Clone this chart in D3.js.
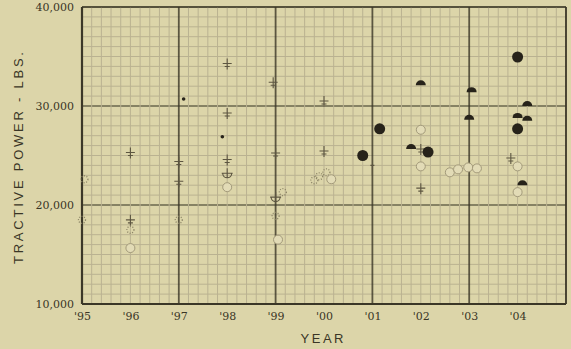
<!DOCTYPE html>
<html><head><meta charset="utf-8">
<script src="https://cdn.jsdelivr.net/npm/d3@7"></script>
<style>
html,body{margin:0;padding:0;background:#dcd5a9;}
svg{display:block;}
</style></head>
<body>
<script>
// ---- data (year, tractive power lbs.) ----
const yTickValues = [10000, 20000, 30000, 40000];
const yTickLabels = ["10,000", "20,000", "30,000", "40,000"];
const xTickValues = [1895,1896,1897,1898,1899,1900,1901,1902,1903,1904];
const xTickLabels = ["'95","'96","'97","'98","'99","'00","'01","'02","'03","'04"];

const plusPoints = [[1896,25300],[1896,18500],[1897,24400],[1897,22400],[1898,34300],[1898,29300],[1898,24600],
  [1898.95,32400],[1899,25250],[1900,30500],[1900,25450],[1902,25650],[1902,21700],[1903.86,24750]];
const dottedPoints = [[1895.05,22600],[1895,18500],[1896,17500],[1897,18500],[1899.15,21300],[1899,18900],
  [1899.9,22900],[1900.05,23300],[1899.8,22500]];
const openPoints = [[1896,15650],[1898,21800],[1899.05,16500],[1900.15,22600],[1902,27600],[1902,23900],
  [1902.6,23300],[1902.77,23600],[1902.98,23800],[1903.16,23700],[1904,23900],[1904,21300]];
const filledPoints = [[1900.8,25000],[1901.15,27700],[1902.15,25350],[1904,34950],[1904,27700]];
const halfPoints = [[1902,32100],[1903.05,31400],[1903,28600],[1901.8,25650],[1904.2,30000],[1904,28800],
  [1904.2,28500],[1904.1,22000]];
const dotPoints = [[1897.1,30700],[1897.9,26900]];
const halfPlusPoints = [[1898,23200],[1899,20800]];
const tickMarkPoints = [[1901,23500]];

const W = 571, H = 349;
const x = d3.scaleLinear().domain([1895, 1905]).range([82, 566]);
const y = d3.scaleLinear().domain([10000, 40000]).range([304, 7]);

const svg = d3.select("body").append("svg").attr("width", W).attr("height", H);
svg.append("rect").attr("width", W).attr("height", H).attr("fill", "#dcd5a9");

const ink = "#3b3727";
const gridC = "#bab291";

// minor grid
const g = svg.append("g");
d3.range(10000, 40001, 1000).forEach(v => {
  const major = v % 10000 === 0;
  g.append("line").attr("x1", x(1895)).attr("x2", x(1905)).attr("y1", y(v)).attr("y2", y(v))
    .attr("stroke", major ? ink : gridC).attr("stroke-width", major ? 1.5 : 1).attr("opacity", major ? 0.7 : 1);
});
d3.range(0, 51).forEach(i => {
  const yr = 1895 + i * 0.2;
  const isYear = i % 5 === 0;
  const major = isYear && (i / 5) % 2 === 0;
  g.append("line").attr("x1", x(yr)).attr("x2", x(yr)).attr("y1", y(10000)).attr("y2", y(40000))
    .attr("stroke", major ? ink : gridC).attr("stroke-width", major ? 1.8 : 1).attr("opacity", major ? 0.8 : 1);
});
// frame
svg.append("line").attr("x1", x(1895)).attr("x2", x(1905)).attr("y1", y(10000)).attr("y2", y(10000)).attr("stroke", ink).attr("stroke-width", 2.2);
svg.append("line").attr("x1", x(1895)).attr("x2", x(1895)).attr("y1", y(10000)).attr("y2", y(40000)).attr("stroke", ink).attr("stroke-width", 2.2);
svg.append("line").attr("x1", x(1895)).attr("x2", x(1905)).attr("y1", y(40000)).attr("y2", y(40000)).attr("stroke", ink).attr("stroke-width", 1.3).attr("opacity", 0.85);
svg.append("line").attr("x1", x(1905)).attr("x2", x(1905)).attr("y1", y(10000)).attr("y2", y(40000)).attr("stroke", ink).attr("stroke-width", 1.5).attr("opacity", 0.85);

// axes labels via d3 axes
const yAxis = d3.axisLeft(y).tickValues(yTickValues).tickFormat((d, i) => yTickLabels[i]).tickSize(0).tickPadding(8);
const ya = svg.append("g").attr("transform", `translate(${x(1895)},0)`).call(yAxis);
ya.select(".domain").remove();
ya.selectAll("text").attr("font-family", "'DejaVu Serif', 'Liberation Serif', serif").attr("font-size", 11)
  .attr("fill", "#3a3526").attr("font-weight", "normal");

const xAxis = d3.axisBottom(x).tickValues(xTickValues).tickFormat((d, i) => xTickLabels[i]).tickSize(0).tickPadding(8);
const xa = svg.append("g").attr("transform", `translate(0,${y(10000)})`).call(xAxis);
xa.select(".domain").remove();
xa.selectAll("text").attr("font-family", "'DejaVu Serif', 'Liberation Serif', serif").attr("font-size", 11)
  .attr("fill", "#3a3526");

svg.append("text").attr("transform", "translate(23,158) rotate(-90)").attr("text-anchor", "middle")
  .attr("font-family", "'Liberation Sans', Arial, sans-serif").attr("font-size", 13).attr("fill", "#3a3526")
  .attr("textLength", 212).attr("lengthAdjust", "spacing").text("TRACTIVE POWER - LBS.");
svg.append("text").attr("x", 322).attr("y", 343).attr("text-anchor", "middle")
  .attr("font-family", "'Liberation Sans', Arial, sans-serif").attr("font-size", 13).attr("fill", "#3a3526")
  .attr("textLength", 43).attr("lengthAdjust", "spacing").text("YEAR");

// markers
const m = svg.append("g");
const markInk = "#5d5641";
m.selectAll(".plus").data(plusPoints).join("path").attr("class", "plus")
  .attr("d", d => { const cx = x(d[0]), cy = y(d[1]);
    return `M${cx-4.5},${cy}H${cx+4.5}M${cx},${cy-5}V${cy+6}M${cx-2.5},${cy+3}H${cx+2.5}`; })
  .attr("stroke", markInk).attr("stroke-width", 1.1).attr("fill", "none");
m.selectAll(".dotted").data(dottedPoints).join("circle").attr("class", "dotted")
  .attr("cx", d => x(d[0])).attr("cy", d => y(d[1])).attr("r", 3.5)
  .attr("fill", "none").attr("stroke", "#8c8466").attr("stroke-width", 1.3).attr("stroke-dasharray", "1,1.6");
m.selectAll(".open").data(openPoints).join("circle").attr("class", "open")
  .attr("cx", d => x(d[0])).attr("cy", d => y(d[1])).attr("r", 4.5)
  .attr("fill", "#e2dbb6").attr("stroke", "#a39a7a").attr("stroke-width", 1);
m.selectAll(".filled").data(filledPoints).join("circle").attr("class", "filled")
  .attr("cx", d => x(d[0])).attr("cy", d => y(d[1])).attr("r", 5.5).attr("fill", "#27231a");
m.selectAll(".half").data(halfPoints).join("path").attr("class", "half")
  .attr("d", d => { const cx = x(d[0]), cy = y(d[1]), r = 5;
    return `M${cx-r},${cy}A${r},${r} 0 0 1 ${cx+r},${cy}Z`; })
  .attr("fill", "#27231a");
m.selectAll(".dot").data(dotPoints).join("circle").attr("class", "dot")
  .attr("cx", d => x(d[0])).attr("cy", d => y(d[1])).attr("r", 1.8).attr("fill", "#27231a");
m.selectAll(".halfplus").data(halfPlusPoints).join("path").attr("class", "halfplus")
  .attr("d", d => { const cx = x(d[0]), cy = y(d[1]), r = 4.5;
    return `M${cx-r},${cy}A${r},${r} 0 0 0 ${cx+r},${cy}M${cx-r-1},${cy}H${cx+r+1}M${cx},${cy-5}V${cy+r}`; })
  .attr("fill", "none").attr("stroke", markInk).attr("stroke-width", 1.1);
m.selectAll(".tick-mark").data(tickMarkPoints).join("path").attr("class", "tick-mark")
  .attr("d", d => { const cx = x(d[0]), cy = y(d[1]);
    return `M${cx},${cy-5}V${cy+5}M${cx-2},${cy-5}H${cx+2}`; })
  .attr("stroke", markInk).attr("stroke-width", 1.1).attr("fill", "none");
</script>
</body></html>
